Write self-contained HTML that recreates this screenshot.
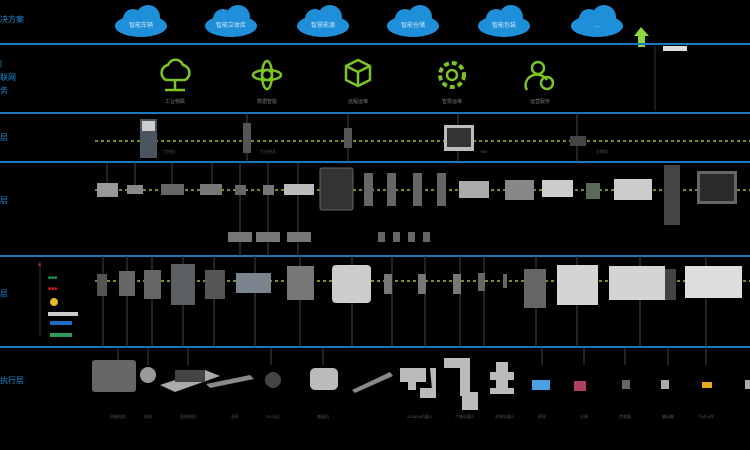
<!DOCTYPE html>
<html><head><meta charset="utf-8"><style>
html,body{margin:0;padding:0;background:#000;width:750px;height:450px;overflow:hidden}
svg{display:block}
text{font-family:"Liberation Sans","Noto Sans CJK SC",sans-serif}
</style></head><body>
<svg width="750" height="450" viewBox="0 0 750 450" xmlns="http://www.w3.org/2000/svg">
<defs>
<g id="cloud"><ellipse cx="0" cy="4" rx="26" ry="11" fill="#1e8fd8"/><circle cx="-8" cy="-3" r="10" fill="#1e8fd8"/><circle cx="7" cy="-5" r="12" fill="#1e8fd8"/></g>
</defs>
<rect width="750" height="450" fill="#000"/>
<g fill="#1f8ad6" font-size="8">
<text x="0" y="22">决方案</text>
<text x="0" y="66">|</text><text x="0" y="80">联网</text><text x="0" y="93">务</text>
<text x="0" y="140">层</text>
<text x="0" y="203">层</text>
<text x="0" y="296">层</text>
<text x="0" y="383">执行层</text>
</g>
<g>
<use href="#cloud" x="141" y="22"/><use href="#cloud" x="231" y="22"/><use href="#cloud" x="323" y="22"/>
<use href="#cloud" x="413" y="22"/><use href="#cloud" x="504" y="22"/><use href="#cloud" x="597" y="22"/>
</g>
<g fill="#cfe8fa" font-size="6" text-anchor="middle">
<text x="141" y="27">智能车辆</text><text x="231" y="27">智能立体库</text><text x="323" y="27">智慧能源</text>
<text x="413" y="27">智能仓储</text><text x="504" y="27">智能包装</text><text x="597" y="27">…</text>
</g>
<polygon points="641,27 634,36 638,36 638,47 645,47 645,36 649,36" fill="#8fd83a"/>
<g stroke="#1a78bf" stroke-width="2">
<line x1="0" y1="44" x2="750" y2="44"/><line x1="0" y1="113" x2="750" y2="113"/>
<line x1="0" y1="162" x2="750" y2="162"/><line x1="0" y1="256" x2="750" y2="256"/>
<line x1="0" y1="347" x2="750" y2="347"/>
</g>
<line x1="655" y1="46" x2="655" y2="111" stroke="#333" stroke-width="1"/>
<rect x="663" y="46" width="24" height="5" fill="#ddd"/>
<g fill="none" stroke="#7cc426" stroke-width="2.5">
<path d="M166,80 a8,8 0 0 1 2,-15 a8,8 0 0 1 15,0 a8,8 0 0 1 2,15 z"/><line x1="175" y1="80" x2="175" y2="90"/><line x1="165" y1="90" x2="185" y2="90"/>
<circle cx="267" cy="75" r="5"/><ellipse cx="267" cy="75" rx="14" ry="5"/><ellipse cx="267" cy="75" rx="5" ry="14"/>
<path d="M346,66 l12,-6 l12,6 v14 l-12,6 l-12,-6 z M346,66 l12,6 l12,-6 M358,72 v14"/>
<circle cx="452" cy="75" r="12" stroke-dasharray="5 3" stroke-width="4"/><circle cx="452" cy="75" r="5"/>
<circle cx="538" cy="68" r="6"/><path d="M527,90 a11,10 0 0 1 20,-10"/><circle cx="547" cy="83" r="6"/>
</g>
<g fill="#777" font-size="5" text-anchor="middle">
<text x="175" y="103">工业物联</text><text x="267" y="103">数据智能</text><text x="358" y="103">远程运维</text><text x="452" y="103">智慧运维</text><text x="540" y="103">运营服务</text>
</g>
<g stroke="#9bbf3a" stroke-width="1.5" stroke-dasharray="3 3">
<line x1="95" y1="141" x2="750" y2="141"/><line x1="95" y1="190" x2="750" y2="190"/><line x1="95" y1="281" x2="750" y2="281"/>
</g>
<g stroke="#444" stroke-width="1">
<line x1="247" y1="113" x2="247" y2="162"/><line x1="348" y1="113" x2="348" y2="162"/><line x1="458" y1="113" x2="458" y2="162"/><line x1="577" y1="113" x2="577" y2="162"/>
<line x1="107" y1="162" x2="107" y2="185"/><line x1="135" y1="162" x2="135" y2="185"/><line x1="172" y1="162" x2="172" y2="185"/><line x1="212" y1="162" x2="212" y2="185"/><line x1="240" y1="162" x2="240" y2="256"/><line x1="268" y1="162" x2="268" y2="256"/><line x1="298" y1="162" x2="298" y2="256"/>
<line x1="103" y1="256" x2="103" y2="347"/><line x1="127" y1="256" x2="127" y2="347"/><line x1="152" y1="256" x2="152" y2="347"/><line x1="183" y1="256" x2="183" y2="347"/><line x1="214" y1="256" x2="214" y2="347"/><line x1="255" y1="256" x2="255" y2="347"/><line x1="300" y1="256" x2="300" y2="347"/><line x1="352" y1="256" x2="352" y2="347"/>
<line x1="392" y1="256" x2="392" y2="347"/><line x1="425" y1="256" x2="425" y2="347"/><line x1="460" y1="256" x2="460" y2="347"/><line x1="484" y1="256" x2="484" y2="347"/><line x1="536" y1="256" x2="536" y2="347"/><line x1="577" y1="256" x2="577" y2="347"/><line x1="640" y1="256" x2="640" y2="347"/><line x1="706" y1="256" x2="706" y2="347"/>
<line x1="118" y1="347" x2="118" y2="365"/><line x1="148" y1="347" x2="148" y2="365"/><line x1="188" y1="347" x2="188" y2="365"/><line x1="271" y1="347" x2="271" y2="365"/><line x1="323" y1="347" x2="323" y2="365"/><line x1="542" y1="347" x2="542" y2="365"/><line x1="584" y1="347" x2="584" y2="365"/><line x1="625" y1="347" x2="625" y2="365"/><line x1="668" y1="347" x2="668" y2="365"/><line x1="706" y1="347" x2="706" y2="365"/>
</g>
<g>
<rect x="140" y="119" width="17" height="39" fill="#4a5560"/><rect x="142" y="121" width="13" height="10" fill="#ccc"/>
<rect x="243" y="123" width="8" height="30" fill="#555"/>
<rect x="344" y="128" width="8" height="20" fill="#555"/>
<rect x="444" y="125" width="30" height="26" fill="#bbb"/><rect x="447" y="128" width="24" height="19" fill="#333"/>
<rect x="570" y="136" width="16" height="10" fill="#444"/>
</g>
<g fill="#555" font-size="4"><text x="163" y="153">工控机</text><text x="260" y="153">工业网关</text><text x="480" y="153">HMI</text><text x="596" y="153">交换机</text></g>
<g>
<rect x="97" y="183" width="21" height="14" fill="#999"/><rect x="127" y="185" width="16" height="9" fill="#888"/>
<rect x="161" y="184" width="23" height="11" fill="#666"/><rect x="200" y="184" width="22" height="11" fill="#777"/>
<rect x="235" y="185" width="11" height="10" fill="#666"/><rect x="263" y="185" width="11" height="10" fill="#777"/>
<rect x="284" y="184" width="30" height="11" fill="#bbb"/>
<rect x="320" y="168" width="33" height="42" rx="2" fill="#333" stroke="#666"/>
<rect x="364" y="173" width="9" height="33" fill="#666"/><rect x="387" y="173" width="9" height="33" fill="#666"/><rect x="413" y="173" width="9" height="33" fill="#666"/><rect x="437" y="173" width="9" height="33" fill="#666"/>
<rect x="459" y="181" width="30" height="17" fill="#aaa"/>
<rect x="505" y="180" width="29" height="20" fill="#888"/><rect x="542" y="180" width="31" height="17" fill="#ccc"/>
<rect x="586" y="183" width="14" height="16" fill="#5a6a5a"/>
<rect x="614" y="179" width="38" height="21" fill="#ccc"/>
<rect x="664" y="165" width="16" height="60" fill="#444"/>
<rect x="697" y="171" width="40" height="33" fill="#666"/><rect x="700" y="174" width="34" height="27" fill="#2a2a2a"/>
<rect x="228" y="232" width="24" height="10" fill="#777"/><rect x="256" y="232" width="24" height="10" fill="#777"/><rect x="287" y="232" width="24" height="10" fill="#777"/>
<rect x="378" y="232" width="7" height="10" fill="#666"/><rect x="393" y="232" width="7" height="10" fill="#666"/><rect x="408" y="232" width="7" height="10" fill="#666"/><rect x="423" y="232" width="7" height="10" fill="#666"/>
</g>
<g font-size="5">
<text x="38" y="266" fill="#d33">■</text><text x="48" y="279" fill="#2a5">■■■</text><text x="48" y="290" fill="#d22">■■■</text>
<circle cx="54" cy="302" r="4" fill="#e8b92a"/><rect x="48" y="312" width="30" height="4" fill="#ccc"/>
<rect x="50" y="321" width="22" height="4" fill="#1c6fc4"/><rect x="50" y="333" width="22" height="4" fill="#2a9d5a"/>
</g>
<line x1="40" y1="262" x2="40" y2="337" stroke="#335" stroke-width="1"/>
<g>
<rect x="97" y="274" width="10" height="22" fill="#555"/><rect x="119" y="271" width="16" height="25" fill="#666"/>
<rect x="144" y="270" width="17" height="29" fill="#666"/><rect x="171" y="264" width="24" height="41" fill="#5a5f64"/>
<rect x="205" y="270" width="20" height="29" fill="#555"/><rect x="236" y="273" width="35" height="20" fill="#7a858f"/>
<rect x="287" y="266" width="27" height="34" fill="#777"/><rect x="332" y="265" width="39" height="38" rx="4" fill="#ccc"/>
<rect x="384" y="274" width="8" height="20" fill="#777"/><rect x="418" y="274" width="8" height="20" fill="#777"/><rect x="453" y="274" width="8" height="20" fill="#777"/><rect x="478" y="273" width="7" height="18" fill="#666"/><rect x="503" y="274" width="4" height="14" fill="#666"/>
<rect x="524" y="269" width="22" height="39" fill="#666"/>
<rect x="557" y="265" width="41" height="40" fill="#d4d4d4"/>
<rect x="609" y="266" width="56" height="34" fill="#d4d4d4"/><rect x="665" y="269" width="11" height="31" fill="#444"/>
<rect x="685" y="266" width="57" height="32" fill="#ddd"/>
</g>
<g>
<rect x="92" y="360" width="44" height="32" rx="3" fill="#666"/><circle cx="148" cy="375" r="8" fill="#999"/>
<polygon points="160,385 205,370 220,376 175,392" fill="#aaa"/><rect x="175" y="370" width="30" height="12" fill="#444"/>
<polygon points="206,384 250,375 254,379 210,388" fill="#888"/><circle cx="273" cy="380" r="8" fill="#444"/>
<rect x="310" y="368" width="28" height="22" rx="5" fill="#bbb"/><polygon points="352,390 390,372 393,376 355,393" fill="#888"/>
<g fill="#bbb">
<rect x="400" y="368" width="26" height="14"/><rect x="408" y="380" width="8" height="10"/><rect x="420" y="388" width="16" height="10"/><path d="M430,368 h6 v22 h-4z"/>
<rect x="444" y="358" width="26" height="10"/><rect x="460" y="366" width="10" height="30"/><rect x="462" y="392" width="16" height="18"/>
<rect x="490" y="372" width="24" height="8"/><rect x="496" y="362" width="12" height="30"/><rect x="490" y="388" width="24" height="6"/>
</g>
<rect x="532" y="380" width="18" height="10" fill="#4aa0e0"/><rect x="574" y="381" width="12" height="10" fill="#b04060"/>
<rect x="622" y="380" width="8" height="9" fill="#666"/><rect x="661" y="380" width="8" height="9" fill="#aaa"/>
<rect x="702" y="382" width="10" height="6" fill="#e8a820"/><rect x="745" y="380" width="5" height="9" fill="#aaa"/>
</g>
<g fill="#555" font-size="4" text-anchor="middle">
<text x="118" y="418">伺服电机</text><text x="148" y="418">电机</text><text x="188" y="418">直线电机</text><text x="235" y="418">丝杆</text><text x="273" y="418">DD马达</text><text x="323" y="418">减速机</text><text x="420" y="418">SCARA机器人</text><text x="465" y="418">六轴机器人</text><text x="505" y="418">并联机器人</text><text x="542" y="418">视觉</text><text x="584" y="418">光源</text><text x="625" y="418">传感器</text><text x="668" y="418">编码器</text><text x="706" y="418">气动元件</text>
</g>
</svg>
</body></html>
